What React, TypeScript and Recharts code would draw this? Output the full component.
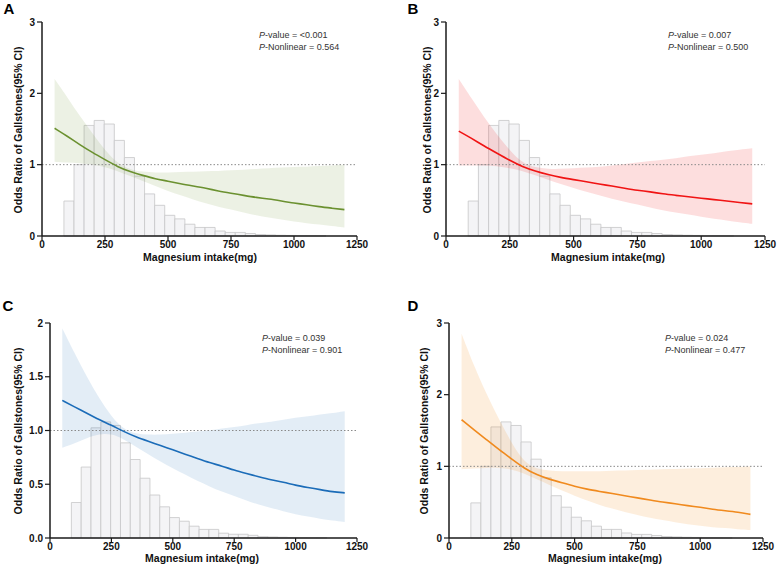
import React from 'react';
import {
  ComposedChart,
  Area,
  Line,
  XAxis,
  YAxis,
  ReferenceLine,
  ReferenceArea,
} from 'recharts';

// ---------- data ----------
const intake = [50, 100, 150, 200, 250, 300, 350, 400, 450, 500, 550, 600, 650, 700, 750, 800, 850, 900, 950, 1000, 1050, 1100, 1150, 1200];

const orA = [1.51, 1.40, 1.28, 1.17, 1.07, 0.97, 0.90, 0.85, 0.80, 0.77, 0.73, 0.70, 0.67, 0.63, 0.60, 0.57, 0.54, 0.52, 0.49, 0.46, 0.44, 0.41, 0.39, 0.37];
const lowA = [1.04, 1.03, 1.02, 1.00, 0.97, 0.91, 0.84, 0.77, 0.70, 0.63, 0.57, 0.51, 0.46, 0.41, 0.37, 0.33, 0.29, 0.26, 0.23, 0.20, 0.18, 0.16, 0.14, 0.12];
const upA = [2.20, 1.95, 1.68, 1.44, 1.20, 1.02, 0.93, 0.90, 0.89, 0.89, 0.90, 0.90, 0.91, 0.91, 0.92, 0.93, 0.94, 0.95, 0.96, 0.97, 0.97, 0.98, 0.99, 1.00];

const orB = [1.47, 1.37, 1.26, 1.16, 1.06, 0.97, 0.91, 0.86, 0.82, 0.79, 0.76, 0.73, 0.70, 0.67, 0.64, 0.62, 0.59, 0.57, 0.55, 0.53, 0.51, 0.49, 0.47, 0.45];
const lowB = [0.99, 0.99, 0.99, 0.98, 0.95, 0.91, 0.85, 0.79, 0.73, 0.67, 0.62, 0.57, 0.52, 0.48, 0.44, 0.40, 0.36, 0.33, 0.30, 0.27, 0.24, 0.22, 0.19, 0.17];
const upB = [2.20, 1.93, 1.66, 1.42, 1.20, 1.02, 0.96, 0.94, 0.94, 0.95, 0.96, 0.97, 0.99, 1.01, 1.03, 1.05, 1.07, 1.09, 1.12, 1.14, 1.16, 1.19, 1.21, 1.23];

const orC = [1.28, 1.22, 1.16, 1.10, 1.05, 0.99, 0.94, 0.90, 0.86, 0.82, 0.78, 0.74, 0.70, 0.67, 0.63, 0.60, 0.57, 0.54, 0.52, 0.49, 0.47, 0.45, 0.43, 0.42];
const lowC = [0.84, 0.88, 0.93, 0.97, 0.97, 0.92, 0.85, 0.78, 0.71, 0.65, 0.59, 0.53, 0.48, 0.43, 0.39, 0.35, 0.31, 0.28, 0.25, 0.22, 0.20, 0.18, 0.16, 0.15];
const upC = [1.95, 1.72, 1.50, 1.30, 1.13, 1.01, 0.97, 0.96, 0.96, 0.97, 0.98, 0.99, 1.00, 1.02, 1.03, 1.05, 1.07, 1.08, 1.10, 1.12, 1.13, 1.15, 1.16, 1.18];

const orD = [1.65, 1.51, 1.37, 1.23, 1.10, 0.97, 0.88, 0.82, 0.77, 0.72, 0.68, 0.65, 0.62, 0.59, 0.56, 0.53, 0.50, 0.48, 0.45, 0.43, 0.40, 0.38, 0.36, 0.33];
const lowD = [0.96, 0.97, 0.98, 0.98, 0.96, 0.90, 0.82, 0.74, 0.66, 0.59, 0.52, 0.46, 0.41, 0.36, 0.32, 0.28, 0.25, 0.22, 0.19, 0.17, 0.15, 0.14, 0.12, 0.11];
const upD = [2.85, 2.40, 2.00, 1.65, 1.32, 1.05, 0.96, 0.94, 0.93, 0.93, 0.93, 0.93, 0.94, 0.94, 0.95, 0.95, 0.96, 0.96, 0.97, 0.97, 0.98, 0.99, 0.99, 1.00];

// histogram of intake (bin edges, heights on each panel's axis)
const binEdges = [87, 127, 167, 207, 247, 287, 327, 367, 407, 447, 487, 527, 567, 607, 647, 687, 727, 767, 807, 847, 887, 927, 967, 1007, 1047, 1087, 1127];
const histABD = [0.49, 1.0, 1.55, 1.62, 1.57, 1.34, 1.1, 0.84, 0.59, 0.43, 0.29, 0.24, 0.165, 0.12, 0.12, 0.07, 0.05, 0.05, 0.035, 0.02, 0.015, 0.01, 0.008, 0.005, 0.004, 0.003];
const histC = [0.33, 0.66, 1.025, 1.08, 1.047, 0.885, 0.73, 0.556, 0.4, 0.29, 0.19, 0.156, 0.11, 0.08, 0.08, 0.045, 0.035, 0.035, 0.025, 0.013, 0.01, 0.007, 0.005, 0.003, 0.002, 0.002];

const xTicks = [0, 250, 500, 750, 1000, 1250];
const yTicks3 = [0, 1, 2, 3];
const yTicks2 = [0, 0.5, 1, 1.5, 2];

const FONT = '"Liberation Sans", Arial, sans-serif';

type PanelProps = {
  left: number;
  top: number;
  width: number;
  height: number;
  margin: { top: number; right: number; bottom: number; left: number };
  yWidth: number;
  xHeight: number;
  yMax: number;
  yTicks: number[];
  yFmt: (v: number) => string;
  or: number[];
  low: number[];
  up: number[];
  hist: number[];
  color: string;
  bandOpacity: number;
};

const Panel = (p: PanelProps) => {
  const data = intake.map((x, i) => ({ x, or: p.or[i], ci: [p.low[i], p.up[i]] }));
  const tickStyle = { fontSize: 10, fontWeight: 700, fill: '#111', fontFamily: FONT };
  return (
    <div style={{ position: 'absolute', left: p.left, top: p.top }}>
      <ComposedChart width={p.width} height={p.height} data={data} margin={p.margin}>
        <XAxis
          type="number"
          dataKey="x"
          domain={[0, 1250]}
          ticks={xTicks}
          allowDataOverflow
          height={p.xHeight}
          tick={tickStyle}
          tickSize={4}
          tickMargin={1}
          axisLine={{ stroke: '#1a1a1a', strokeWidth: 1.5 }}
          tickLine={{ stroke: '#1a1a1a', strokeWidth: 1.2 }}
        />
        <YAxis
          type="number"
          domain={[0, p.yMax]}
          ticks={p.yTicks}
          allowDataOverflow
          width={p.yWidth}
          tick={tickStyle}
          tickFormatter={p.yFmt}
          tickSize={5}
          tickMargin={2}
          axisLine={{ stroke: '#1a1a1a', strokeWidth: 1.5 }}
          tickLine={{ stroke: '#1a1a1a', strokeWidth: 1.2 }}
        />
        {p.hist.map((h, i) => (
          <ReferenceArea
            key={'h' + i}
            x1={binEdges[i]}
            x2={binEdges[i + 1]}
            y1={0}
            y2={h}
            fill="#f4f4f6"
            fillOpacity={1}
            stroke="#c6c6c8"
            strokeWidth={0.8}
            ifOverflow="visible"
          />
        ))}
        <Area
          type="basis"
          dataKey="ci"
          stroke="none"
          fill={p.color}
          fillOpacity={p.bandOpacity}
          isAnimationActive={false}
          activeDot={false}
        />
        <ReferenceLine y={1} stroke="#8a8a8a" strokeWidth={1} strokeDasharray="1.5 2" />
        <Line
          type="basis"
          dataKey="or"
          stroke={p.color}
          strokeWidth={1.6}
          dot={false}
          activeDot={false}
          isAnimationActive={false}
        />
      </ComposedChart>
    </div>
  );
};

const TextAbs = ({ x, y, children, style }: { x: number; y: number; children: React.ReactNode; style?: React.CSSProperties }) => (
  <div style={{ position: 'absolute', left: x, top: y, whiteSpace: 'nowrap', fontFamily: FONT, lineHeight: 1, ...style }}>
    {children}
  </div>
);

const Center = ({ x, y, rotate, children, style }: { x: number; y: number; rotate?: boolean; children: React.ReactNode; style?: React.CSSProperties }) => (
  <div
    style={{
      position: 'absolute',
      left: x,
      top: y,
      whiteSpace: 'nowrap',
      fontFamily: FONT,
      lineHeight: 1,
      transform: `translate(-50%, -50%)${rotate ? ' rotate(-90deg)' : ''}`,
      ...style,
    }}
  >
    {children}
  </div>
);

const fmt3 = (v: number) => String(v);
const fmt2 = (v: number) => (v === 2 ? '2' : v.toFixed(1));

const yTitle = 'Odds Ratio of Gallstones(95% CI)';
const xTitle = 'Magnesium intake(mg)';
const titleStyle: React.CSSProperties = { fontSize: 10.5, fontWeight: 700, color: '#111' };
const letterStyle: React.CSSProperties = { fontSize: 15, fontWeight: 700, color: '#000' };
const noteStyle: React.CSSProperties = { fontSize: 9, color: '#333' };

const Note = ({ x, y, pv, pn }: { x: number; y: number; pv: string; pn: string }) => (
  <>
    <TextAbs x={x} y={y - 5} style={noteStyle}>
      <i>P</i>-value = {pv}
    </TextAbs>
    <TextAbs x={x} y={y + 7} style={noteStyle}>
      <i>P</i>-Nonlinear = {pn}
    </TextAbs>
  </>
);

export default function App() {
  return (
    <div style={{ position: 'absolute', left: 0, top: 0, width: 777, height: 567, background: '#fff', overflow: 'hidden' }}>
      <Panel
        left={0} top={0} width={390} height={280}
        margin={{ top: 22, right: 33, bottom: 0, left: 0 }}
        yWidth={42} xHeight={44}
        yMax={3} yTicks={yTicks3} yFmt={fmt3}
        or={orA} low={lowA} up={upA} hist={histABD}
        color="#6b9130" bandOpacity={0.13}
      />
      <Panel
        left={390} top={0} width={387} height={280}
        margin={{ top: 22, right: 12, bottom: 0, left: 0 }}
        yWidth={56} xHeight={44}
        yMax={3} yTicks={yTicks3} yFmt={fmt3}
        or={orB} low={lowB} up={upB} hist={histABD}
        color="#f01414" bandOpacity={0.14}
      />
      <Panel
        left={0} top={280} width={390} height={287}
        margin={{ top: 43, right: 33, bottom: 0, left: 0 }}
        yWidth={50} xHeight={29}
        yMax={2} yTicks={yTicks2} yFmt={fmt2}
        or={orC} low={lowC} up={upC} hist={histC}
        color="#1b6cb8" bandOpacity={0.12}
      />
      <Panel
        left={390} top={280} width={387} height={287}
        margin={{ top: 43, right: 14, bottom: 0, left: 0 }}
        yWidth={59} xHeight={29}
        yMax={3} yTicks={yTicks3} yFmt={fmt3}
        or={orD} low={lowD} up={upD} hist={histABD}
        color="#f08a1e" bandOpacity={0.15}
      />

      <Center x={9} y={8} style={letterStyle}>A</Center>
      <Center x={413} y={8} style={letterStyle}>B</Center>
      <Center x={8} y={305} style={letterStyle}>C</Center>
      <Center x={413} y={305} style={letterStyle}>D</Center>

      <Center x={18} y={130} rotate style={titleStyle}>{yTitle}</Center>
      <Center x={427} y={130} rotate style={titleStyle}>{yTitle}</Center>
      <Center x={18} y={431} rotate style={titleStyle}>{yTitle}</Center>
      <Center x={424} y={431} rotate style={titleStyle}>{yTitle}</Center>

      <Center x={200} y={257} style={titleStyle}>{xTitle}</Center>
      <Center x={608} y={257} style={titleStyle}>{xTitle}</Center>
      <Center x={202} y={558} style={titleStyle}>{xTitle}</Center>
      <Center x={605} y={558} style={titleStyle}>{xTitle}</Center>

      <Note x={259} y={36} pv="<0.001" pn="0.564" />
      <Note x={668} y={36} pv="0.007" pn="0.500" />
      <Note x={262} y={339} pv="0.039" pn="0.901" />
      <Note x={665} y={339} pv="0.024" pn="0.477" />
    </div>
  );
}
